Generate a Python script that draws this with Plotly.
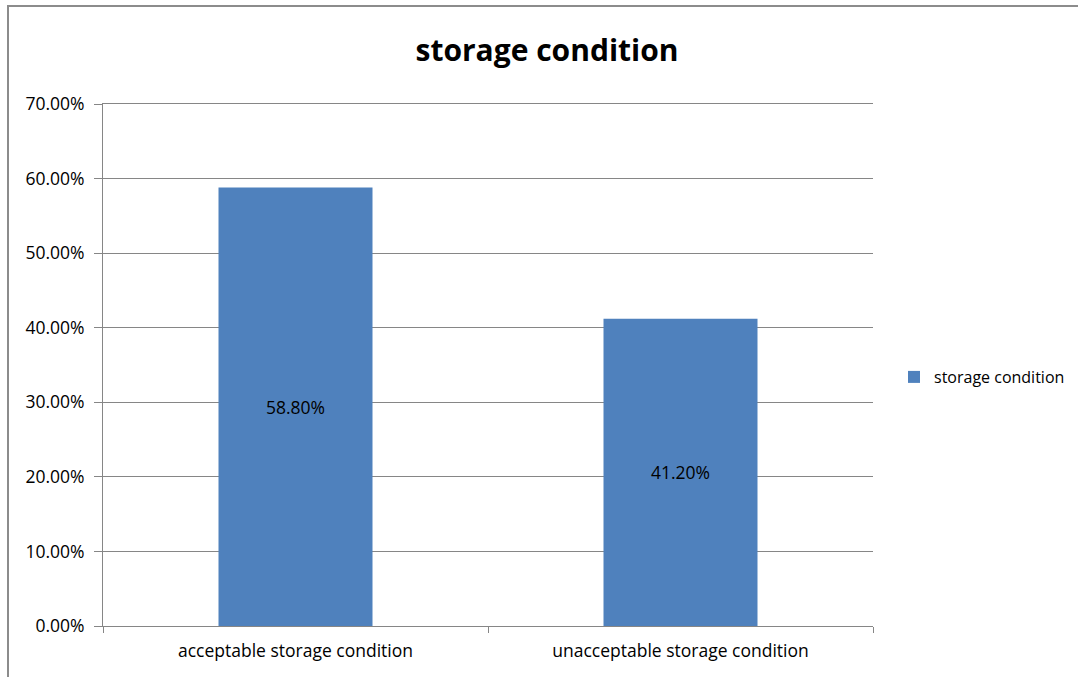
import plotly.graph_objects as go

categories = ["acceptable storage condition", "unacceptable storage condition"]
values = [0.588, 0.412]
value_labels = ["58.80%", "41.20%"]
series_name = "storage condition"
title_text = "storage condition"

W, H = 1078, 677
L, R, T, B = 103, 205, 104, 51
pw, ph = W - L - R, H - T - B

def px_to_paper_x(px):
    return (px - L) / pw

def px_to_paper_y(py):
    return 1 - (py - T) / ph

font_family = "'Open Sans', 'Noto Sans', sans-serif"

fig = go.Figure()
fig.add_trace(go.Bar(
    x=categories, y=values, name=series_name,
    marker=dict(color="#4F81BD", line=dict(width=0)),
    width=0.4,
    text=value_labels, textposition="inside", insidetextanchor="middle",
    textfont=dict(family=font_family, size=17.5, color="#000000"),
    hoverinfo="skip", showlegend=True,
))

fig.update_layout(
    width=W, height=H,
    margin=dict(l=L, r=R, t=T, b=B, autoexpand=False),
    paper_bgcolor="white", plot_bgcolor="white",
    title=dict(text="<b>" + title_text + "</b>", x=px_to_paper_x(547), xref="paper",
               xanchor="center", y=1 - 50 / H, yanchor="middle",
               font=dict(family=font_family, size=30, color="#000000")),
    font=dict(family=font_family, size=17.5, color="#000000"),
    showlegend=True,
    legend=dict(x=px_to_paper_x(894), y=px_to_paper_y(377), xanchor="left", yanchor="middle",
                font=dict(family=font_family, size=16, color="#000000"),
                itemwidth=30, bgcolor="rgba(0,0,0,0)", tracegroupgap=0),
    bargap=0.6,
)
fig.update_yaxes(range=[0, 0.7], tickvals=[0, 0.1, 0.2, 0.3, 0.4, 0.5, 0.6, 0.7],
                 tickformat=".2%", automargin=False,
                 showgrid=True, gridcolor="#868686", gridwidth=1,
                 showline=True, linecolor="#868686", linewidth=1,
                 ticks="outside", ticklen=8, tickcolor="#868686",
                 ticklabelstandoff=6,
                 zeroline=False, tickfont=dict(size=17.5), fixedrange=True)
fig.update_xaxes(showline=True, mirror=True, linecolor="#868686", linewidth=1,
                 ticks="outside", ticklen=6, tickcolor="#868686",
                 tickson="boundaries", showgrid=False, automargin=False,
                 ticklabelstandoff=9,
                 tickfont=dict(size=17.5), fixedrange=True)

# outer chart border (left and top edges visible, rest beyond page)
fig.add_shape(type="rect", xref="paper", yref="paper",
              x0=px_to_paper_x(8), x1=px_to_paper_x(W + 20),
              y0=px_to_paper_y(H + 20), y1=px_to_paper_y(6),
              line=dict(color="#8C8C8C", width=2), fillcolor="rgba(0,0,0,0)", layer="below")

fig.write_html("out.html", config={"displayModeBar": False},
               post_script="document.body.style.margin='0';")
